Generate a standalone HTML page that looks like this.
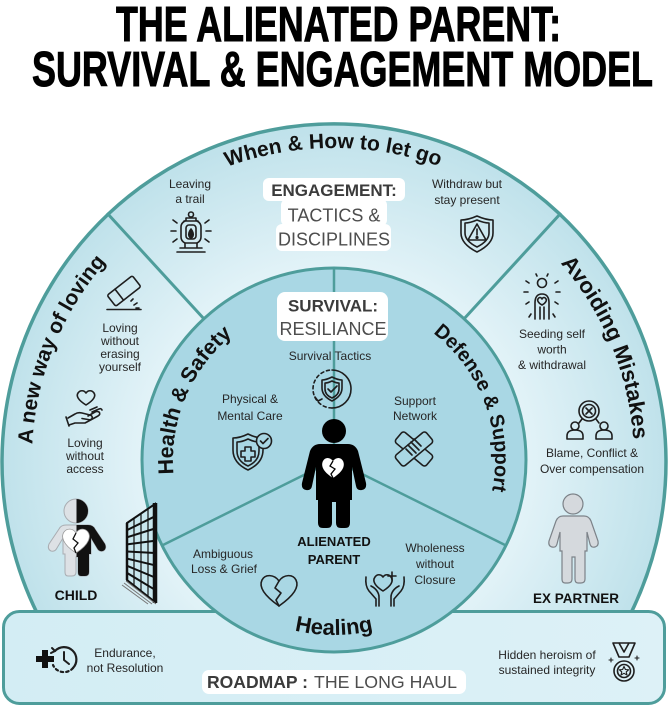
<!DOCTYPE html>
<html><head><meta charset="utf-8"><title>The Alienated Parent: Survival &amp; Engagement Model</title>
<style>
html,body{margin:0;padding:0;background:#fff;width:668px;height:706px;overflow:hidden}
.wrap{width:668px;height:706px;overflow:hidden;position:relative}
svg{display:block;position:absolute;left:0;top:0}
text{font-family:"Liberation Sans",Arial,sans-serif}
</style></head><body><div class="wrap">
<svg width="668" height="706" viewBox="0 0 668 706" xmlns="http://www.w3.org/2000/svg" overflow="hidden">
<defs>
 <radialGradient id="og" cx="334" cy="460" r="338" gradientUnits="userSpaceOnUse">
  <stop offset="0.56" stop-color="#e3f3f8"/>
  <stop offset="1" stop-color="#bee1ea"/>
 </radialGradient>
 <linearGradient id="bx" x1="0" y1="0" x2="1" y2="0">
  <stop offset="0" stop-color="#d3edf4"/><stop offset="1" stop-color="#ddf1f7"/>
 </linearGradient>
 <path id="pA" d="M32.4 444.2 A302 302 0 0 1 160.8 212.6"/>
 <path id="pW" d="M227.3 166.8 A312 312 0 0 1 490 189.8"/>
 <path id="pM" d="M560.4 263.2 A300 300 0 0 1 629.4 512.1"/>
 <path id="pH" d="M173.6 474 A161 161 0 0 1 253.5 320.6"/>
 <path id="pD" d="M433.1 333.1 A161 161 0 0 1 485.3 515.1"/>
 <path id="pL" d="M233.6 603.3 A175 175 0 0 0 434.4 603.3"/>
 <clipPath id="rh"><rect x="76.5" y="490" width="40" height="100"/></clipPath>
 <path id="childSil" d="M66 525 H88 Q93 525 95 529 L105 544 Q107 549 103 551 Q99 552 97 548 L91 538 V554 H89 V572 Q89 576 85 576 H81 Q78 576 78 572 V557 H76 V572 Q76 576 72 576 H68 Q65 576 65 572 V554 H63 V538 L57 548 Q55 552 51 551 Q47 549 49 544 L59 529 Q61 525 66 525 Z"/>
</defs>

<!-- Title -->
<text x="116" y="41" font-size="49" font-weight="bold" fill="#000" stroke="#000" stroke-width="1" textLength="445" lengthAdjust="spacingAndGlyphs">THE ALIENATED PARENT:</text>
<text x="32" y="86" font-size="49" font-weight="bold" fill="#000" stroke="#000" stroke-width="1" textLength="621" lengthAdjust="spacingAndGlyphs">SURVIVAL &amp; ENGAGEMENT MODEL</text>

<!-- Outer ring (only the part above the roadmap box) -->
<path d="M37.5 614 A332 338 0 1 1 630.5 614 Z" fill="url(#og)" stroke="#4e9d9b" stroke-width="3.5"/>
<line x1="107" y1="213" x2="205" y2="320" stroke="#4e9d9b" stroke-width="3"/>
<line x1="561" y1="213" x2="463" y2="320" stroke="#4e9d9b" stroke-width="3"/>

<!-- Bottom roadmap box -->
<rect x="3.5" y="611.5" width="661" height="92" rx="16" fill="url(#bx)" stroke="#4e9d9b" stroke-width="3"/>

<!-- Inner circle -->
<circle cx="334" cy="460" r="192" fill="#a9d7e4" stroke="#4e9d9b" stroke-width="3"/>
<line x1="334" y1="269" x2="334" y2="460" stroke="#4e9d9b" stroke-width="2.5"/>
<line x1="334" y1="460" x2="162" y2="545.5" stroke="#4e9d9b" stroke-width="2.5"/>
<line x1="334" y1="460" x2="506" y2="545.5" stroke="#4e9d9b" stroke-width="2.5"/>

<!-- Curved headings -->
<g font-weight="bold" fill="#111">
 <text font-size="21"><textPath href="#pA" textLength="200" lengthAdjust="spacingAndGlyphs">A new way of loving</textPath></text>
 <text font-size="21"><textPath href="#pW" textLength="216" lengthAdjust="spacingAndGlyphs">When &amp; How to let go</textPath></text>
 <text font-size="22"><textPath href="#pM" textLength="194" lengthAdjust="spacingAndGlyphs">Avoiding Mistakes</textPath></text>
 <text font-size="21.5"><textPath href="#pH" textLength="157" lengthAdjust="spacingAndGlyphs">Health &amp; Safety</textPath></text>
 <text font-size="20"><textPath href="#pD" textLength="177" lengthAdjust="spacingAndGlyphs">Defense &amp; Support</textPath></text>
 <text font-size="22" text-anchor="middle"><textPath href="#pL" startOffset="50%">Healing</textPath></text>
</g>

<!-- ENGAGEMENT label -->
<g fill="#fff">
 <rect x="263" y="178" width="142" height="23" rx="6"/>
 <rect x="281" y="199" width="106" height="27" rx="6"/>
 <rect x="276" y="224" width="115" height="27" rx="6"/>
</g>
<text x="334" y="196" font-size="17" font-weight="bold" fill="#3b3b3b" text-anchor="middle">ENGAGEMENT:</text>
<text x="334" y="221.5" font-size="18" fill="#4d4d4d" text-anchor="middle">TACTICS &amp;</text>
<text x="334" y="245.5" font-size="18" fill="#4d4d4d" text-anchor="middle">DISCIPLINES</text>

<!-- SURVIVAL label -->
<rect x="277" y="292" width="111" height="49" rx="8" fill="#fff"/>
<text x="333" y="311.5" font-size="17" font-weight="bold" fill="#3b3b3b" text-anchor="middle">SURVIVAL:</text>
<text x="333" y="335" font-size="18" fill="#4d4d4d" text-anchor="middle">RESILIANCE</text>

<!-- Small labels -->
<g font-size="12" fill="#262626" text-anchor="middle">
 <text x="190" y="188">Leaving</text><text x="190" y="203">a trail</text>
 <text x="467" y="188">Withdraw but</text><text x="467" y="204">stay present</text>
 <text x="120" y="332">Loving</text><text x="120" y="345">without</text><text x="120" y="358">erasing</text><text x="120" y="371">yourself</text>
 <text x="85" y="447">Loving</text><text x="85" y="460">without</text><text x="85" y="473">access</text>
 <text x="552" y="338">Seeding self</text><text x="552" y="353.5">worth</text><text x="552" y="369">&amp; withdrawal</text>
 <text x="592" y="457">Blame, Conflict &amp;</text><text x="592" y="473">Over compensation</text>
 <text x="330" y="360">Survival Tactics</text>
 <text x="250" y="403">Physical &amp;</text><text x="250" y="420">Mental Care</text>
 <text x="415" y="405">Support</text><text x="415" y="420">Network</text>
 <text x="223" y="558">Ambiguous</text><text x="224" y="573">Loss &amp; Grief</text>
 <text x="435" y="552">Wholeness</text><text x="435" y="568">without</text><text x="435" y="584">Closure</text>
 <text x="125" y="657">Endurance,</text><text x="125" y="672">not Resolution</text>
 <text x="547" y="659">Hidden heroism of</text><text x="547" y="674">sustained integrity</text>
</g>
<g font-weight="bold" fill="#111" text-anchor="middle">
 <text x="334" y="546" font-size="13">ALIENATED</text>
 <text x="334" y="564" font-size="13">PARENT</text>
 <text x="76" y="600" font-size="14">CHILD</text>
 <text x="576" y="603" font-size="13.5">EX PARTNER</text>
</g>

<!-- Roadmap label -->
<rect x="202" y="670" width="264" height="24" rx="7" fill="#fff"/>
<text x="207" y="688" font-size="17.5" font-weight="bold" fill="#3b3b3b" textLength="101" lengthAdjust="spacingAndGlyphs">ROADMAP :</text>
<text x="314" y="688" font-size="17.5" fill="#4d4d4d" textLength="143" lengthAdjust="spacingAndGlyphs">THE LONG HAUL</text>

<!-- ICONS -->
<g stroke="#1e1e1e" stroke-width="1.6" fill="none" stroke-linecap="round" stroke-linejoin="round">
 <!-- Lantern -->
 <circle cx="191" cy="214.5" r="2.5"/>
 <path d="M186 221 v-3 h10 v3 M184 221 h14"/>
 <path d="M185 221 q-4 2 -4 6 v10 q0 4 4 6 h12 q4 -2 4 -6 v-10 q0 -4 -4 -6"/>
 <rect x="186" y="225" width="10" height="14" rx="3"/>
 <path d="M191 229 q-3 4 -2 7 q1 2 2 2 q1 0 2 -2 q1 -3 -2 -7z" fill="#1e1e1e"/>
 <path d="M185 243 v5 M197 243 v5 M180 248 h22 M177 252 h28"/>
 <path d="M177 223 l-4 -3 M176 231 h-5 M177 239 l-4 3 M205 223 l4 -3 M206 231 h5 M205 239 l4 3"/>

 <!-- Shield with warning -->
 <path d="M477 216 q9 4 16 4 v13 q0 11 -16 19 q-16 -8 -16 -19 v-13 q7 0 16 -4z"/>
 <path d="M477 220 q7 3 12 3 v10 q0 8 -12 14 q-12 -6 -12 -14 v-10 q5 0 12 -3z"/>
 <path d="M477 224 l9 16 h-18 z"/>
 <path d="M477 229 v6"/><circle cx="477" cy="237.5" r="0.8" fill="#1e1e1e"/>

 <!-- Eraser -->
 <g transform="rotate(-38 124 291)"><rect x="108" y="284" width="32" height="14" rx="2"/><line x1="118" y1="284" x2="118" y2="298"/></g>
 <path d="M107 309.5 h34 M131 301 l2 -2 M134 305 l3 -2 M136 308 h3"/>

 <!-- Hand with heart -->
 <path d="M86 405 c-8 -5 -10 -9 -8 -12 c2 -3 6 -3 8 0 c2 -3 6 -3 8 0 c2 3 0 7 -8 12z"/>
 <path d="M68 418 l7 -4 q3 -2 7 -1 l8 2 q3 1 2 3.5 q-1 2 -4 1 l-6 -1"/>
 <path d="M69 425 l6 -2 h10 l13 -7 q3 -2 1 -4 q-2 -1 -4 0 l-7 4 M92 412 l7 -3 q2 -1 3 1 M90 410 l7 -3"/>
 <path d="M66 417 l3 9"/>

 <!-- Person with heart and rays -->
 <circle cx="542" cy="283" r="4.5"/>
 <path d="M535 319 V303 Q535 294 542 294 Q549 294 549 303 V319 M540 307 V319 M544 307 V319"/>
 <path d="M542 305 c-4 -2 -5 -5 -4 -6 c1 -2 3 -2 4 0 c1 -2 3 -2 4 0 c1 1 0 4 -4 6z"/>
 <path d="M529 283 l-3 -2 M528 292 h-4 M529 302 l-3 2 M555 283 l3 -2 M556 292 h4 M555 302 l3 2 M537 276 l-1 -2 M547 276 l1 -2 M531 314 l-2 3 M553 314 l2 3"/>

 <!-- Blame icon -->
 <circle cx="589" cy="411" r="10"/>
 <circle cx="589" cy="411" r="6.5"/>
 <path d="M586 408 l6 6 M592 408 l-6 6"/>
 <path d="M582 419 l-3 4 M596 419 l3 4"/>
 <circle cx="575" cy="426" r="4"/>
 <path d="M567 439 v-3 q0 -6 8 -6 q8 0 8 6 v3 z"/>
 <circle cx="604" cy="426" r="4"/>
 <path d="M596 439 v-3 q0 -6 8 -6 q8 0 8 6 v3 z"/>

 <!-- Survival tactics icon -->
 <path d="M332 370 A19 19 0 0 1 332 408"/>
 <path d="M332 408 A19 19 0 0 1 332 370" stroke-dasharray="3 3"/>
 <path d="M315 397 l3 4 l4 -2"/>
 <path d="M332 377 q6 3 10 3 v8 q0 8 -10 13 q-10 -5 -10 -13 v-8 q4 0 10 -3z"/>
 <path d="M332 381 q4 2 7 2 v6 q0 6 -7 9 q-7 -3 -7 -9 v-6 q3 0 7 -2z"/>
 <path d="M328 389 l3 3 l6 -6"/>

 <!-- Physical & mental care -->
 <path d="M248 434 q8 4 15 4 v12 q0 13 -15 20 q-15 -7 -15 -20 v-12 q7 0 15 -4z"/>
 <path d="M248 439 q6 3 11 3 v9 q0 10 -11 15 q-11 -5 -11 -15 v-9 q5 0 11 -3z"/>
 <path d="M245 447 h6 v4 h4 v6 h-4 v4 h-6 v-4 h-4 v-6 h4z"/>
 <circle cx="264" cy="441" r="7.5" fill="#a9d7e4"/>
 <path d="M260.5 441 l2.5 2.5 l5 -5"/>

 <!-- Support network hands -->
 <g transform="translate(414,449)" fill="#a9d7e4">
  <rect x="-20" y="-7" width="40" height="14" rx="3" transform="rotate(40)"/>
  <rect x="-20" y="-7" width="40" height="14" rx="3" transform="rotate(-40)"/>
  <path d="M-6 -4 l8 8 M-3 -7 l8 8 M0 -10 l7 7 M-8 0 l6 6" fill="none"/>
 </g>

 <!-- Broken heart -->
 <path d="M279 606 C262 594 259 586 262 580 C265 574 274 574 279 581 C284 574 293 574 296 580 C299 586 296 594 279 606 Z"/>
 <path d="M279 581 L275 588 L281 593 L276 600 L279 606"/>

 <!-- Hands with heart -->
 <path d="M383 591 c-8 -5 -11 -10 -8 -14 c2 -3 6 -3 8 0 c2 -3 6 -3 8 0 c3 4 0 9 -8 14z"/>
 <path d="M392 572 v8 M388 576 h8"/>
 <path d="M366 577 q-1 9 3 14 l7 8 v7 M371 586 q4 2 6 5 q2 3 2 6 v9"/>
 <path d="M404 577 q1 9 -3 14 l-7 8 v7 M399 586 q-4 2 -6 5 q-2 3 -2 6 v9"/>

 <!-- Endurance clock -->
 <path d="M55 651 A12 12 0 1 1 73 668" stroke-width="2.2"/>
 <path d="M73 668 A12 12 0 0 1 53 665" stroke-width="2.2" stroke-dasharray="2.5 3"/>
 <path d="M52 648 l3 3 l-4 2" stroke-width="2"/>
 <path d="M64 652 v8 l5 4" stroke-width="2"/>

 <!-- Medal -->
 <path d="M613 643 h22 l-6 14 h-10 z M619 643 l5 9 l5 -9"/>
 <circle cx="624" cy="671" r="10"/>
 <circle cx="624" cy="671" r="6.5"/>
 <path d="M624 666.5 l1.4 3 l3.2 .3 l-2.4 2.1 l.8 3.1 l-3 -1.7 l-3 1.7 l.8 -3.1 l-2.4 -2.1 l3.2 -.3 z" stroke-width="1.1"/>
 <path d="M611 658 v4 M609 660 h4 M637 656 v4 M635 658 h4" stroke-width="1.1"/>
</g>
<!-- bold plus for endurance -->
<path d="M42 650 h6 v6 h6 v6 h-6 v6 h-6 v-6 h-6 v-6 h6 z" fill="#111"/>

<!-- Wall -->
<g stroke="#111" fill="none">
 <path d="M127 523 L155 504 L155 602 L127 580 Z" fill="#c9e7ee" stroke-width="2"/>
 <line x1="155" y1="503" x2="155" y2="603" stroke-width="4.5"/>
 <line x1="127" y1="523" x2="127" y2="580" stroke-width="2.5"/>
 <g stroke-width="2">
  <line x1="127" y1="530.1" x2="155" y2="516.3"/>
  <line x1="127" y1="537.3" x2="155" y2="528.5"/>
  <line x1="127" y1="544.4" x2="155" y2="540.8"/>
  <line x1="127" y1="551.5" x2="155" y2="553"/>
  <line x1="127" y1="558.6" x2="155" y2="565.3"/>
  <line x1="127" y1="565.8" x2="155" y2="577.5"/>
  <line x1="127" y1="572.9" x2="155" y2="589.8"/>
 </g>
 <g stroke-width="1.2">
  <line x1="134" y1="518.3" x2="134" y2="585.5"/>
  <line x1="141" y1="513.5" x2="141" y2="591"/>
  <line x1="148" y1="508.8" x2="148" y2="596.5"/>
 </g>
 <g stroke="#777" stroke-width="1">
  <line x1="124" y1="583" x2="152" y2="604"/>
  <line x1="122" y1="585" x2="148" y2="604"/>
  <line x1="126" y1="581" x2="156" y2="604"/>
 </g>
</g>

<!-- Child figure -->
<circle cx="76" cy="511" r="12" fill="#dde1e5" stroke="#a9adb2" stroke-width="1"/>
<use href="#childSil" fill="#dde1e5" stroke="#a9adb2" stroke-width="1"/>
<g clip-path="url(#rh)">
 <circle cx="76" cy="511" r="12" fill="#111"/>
 <use href="#childSil" fill="#111"/>
</g>
<path d="M76 553 C62 544 61 536 64 532 C67 528 73 528 76 533 C79 528 85 528 88 532 C91 536 90 544 76 553 Z" fill="#fff" stroke="#999" stroke-width="0.8"/>
<path d="M76 533 L73 539 L78 543 L74 548 L76 553" fill="none" stroke="#111" stroke-width="1.3"/>

<!-- Alienated parent figure -->
<circle cx="334" cy="431" r="12" fill="#000"/>
<path d="M320 444 H348 Q355 444 358 451 L366 483 Q367 489 362 490 Q357 491 356 486 L352 467 V500 H350 V523 Q350 528 345 528 H341 Q336 528 336 523 V502 H332 V523 Q332 528 327 528 H323 Q318 528 318 523 V500 H316 V467 L312 486 Q311 491 306 490 Q301 489 302 483 L310 451 Q313 444 320 444 Z" fill="#000"/>
<path d="M333 478 C322 471 321 465 323 461 C325 457 330 457 333 461 C336 457 341 457 343 461 C345 465 344 471 333 478 Z" fill="#fff"/>
<path d="M333 461 L330 466 L335 469 L331 474 L333 478" fill="none" stroke="#000" stroke-width="1.3"/>

<!-- Ex partner figure -->
<circle cx="573" cy="504" r="10" fill="#d5d9dd" stroke="#7c8288" stroke-width="1.2"/>
<path d="M563 516 H584 Q589 516 591 521 L598 541 Q599 546 595 547 Q591 548 590 544 L587 532 V551 H585 V579 Q585 583 581 583 H578 Q575 583 575 579 V557 H572 V579 Q572 583 568 583 H565 Q562 583 562 579 V551 H560 V532 L557 544 Q556 548 552 547 Q548 546 549 541 L556 521 Q558 516 563 516 Z" fill="#d5d9dd" stroke="#7c8288" stroke-width="1.2"/>
</svg>
</div>
</body></html>
